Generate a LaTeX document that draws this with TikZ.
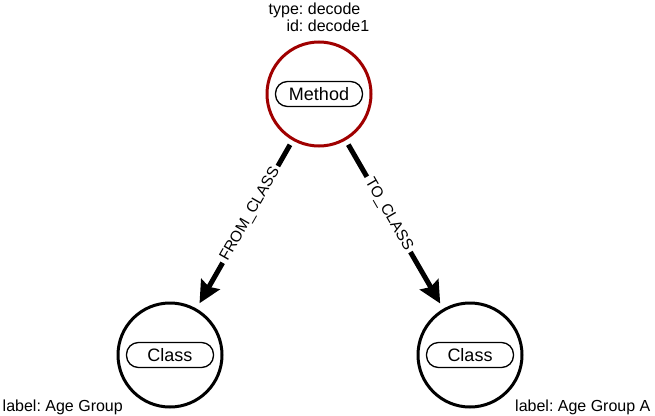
\documentclass[tikz,border=0pt]{standalone}
\usepackage{fontspec}
\setmainfont{Liberation Sans}
\usetikzlibrary{arrows.meta,positioning}
\definecolor{methodred}{RGB}{160,0,0}
\frenchspacing

\tikzset{
  entity/.style={circle, draw=black, line width=3pt, minimum size=104pt, inner sep=0pt},
  tag/.style={draw=black, line width=1.3pt, rounded corners=12pt, minimum width=87pt, minimum height=25pt, inner sep=0pt, font=\fontsize{18}{21}\selectfont},
  note/.style={inner sep=0pt, font=\fontsize{16}{18}\selectfont},
  rel/.style={line width=5pt, -{Stealth[length=22pt,width=21pt,inset=3pt]}, shorten <=5pt, shorten >=6pt},
  rellbl/.style={fill=white, sloped, inner sep=3pt, font=\fontsize{15.5}{18}\selectfont}
}

\begin{document}
\begin{tikzpicture}[x=1pt,y=-1pt]
  \useasboundingbox (0,0) rectangle (655,415);

  \node[entity, draw=methodred](Meth) at (319,94){};
  \node[tag](MethTag) at (Meth){Method};
  \node[note](MethProps) at (319,19){\begin{tabular}{@{}r@{: }l@{}}type & decode\\[-1pt] id & decode1\end{tabular}};

  \node[entity](ClsA) at (170,355){};
  \node[tag](ClsATag) at (ClsA){Class};
  \node[note, anchor=base east](ClsAProps) at (123,411){label: Age Group};

  \node[entity](ClsB) at (470,355){};
  \node[tag](ClsBTag) at (ClsB){Class};
  \node[note, anchor=base west](ClsBProps) at (515,411){label: Age Group A};

  \draw[rel] (Meth) -- node[rellbl, pos=0.44]{FROM\_CLASS} (ClsA);
  \draw[rel] (Meth) -- node[rellbl, pos=0.44]{TO\_CLASS} (ClsB);
\end{tikzpicture}
\end{document}
